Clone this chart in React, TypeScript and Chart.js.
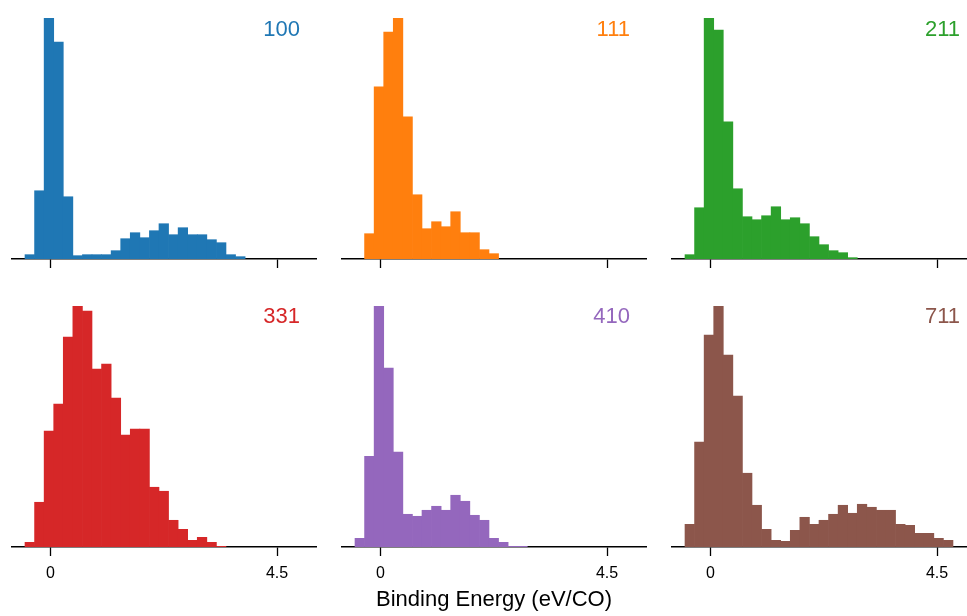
import React, { useEffect, useRef } from 'react';
import { Chart, registerables } from 'chart.js';
Chart.register(...registerables);

// Histogram bin centres (bin width 0.19 eV, first edge at -0.503)
const BIN_CENTERS = [
  -0.408, -0.218, -0.028, 0.162, 0.352, 0.542, 0.732, 0.922, 1.112, 1.302,
  1.492, 1.682, 1.872, 2.062, 2.252, 2.442, 2.632, 2.822, 3.012, 3.202,
  3.392, 3.582, 3.772, 3.962, 4.152, 4.342, 4.532, 4.722,
];

const FACETS = ['100', '111', '211', '331', '410', '711'];

const COUNTS_100 = [13, 205, 724, 652, 187, 10, 13, 13, 13, 25, 61, 79, 64, 85, 106, 73, 94, 73, 73, 58, 49, 13, 7];
const COUNTS_111 = [null, 76, 517, 682, 724, 427, 193, 91, 112, 97, 142, 79, 79, 28, 16];
const COUNTS_211 = [13, 154, 724, 688, 412, 211, 127, 118, 130, 157, 118, 124, 106, 67, 43, 25, 19, 4];
const COUNTS_331 = [14, 134, 347, 428, 629, 722, 707, 533, 548, 446, 335, 353, 353, 179, 167, 80, 53, 20, 29, 14, 2];
const COUNTS_410 = [26, 272, 722, 536, 284, 98, 92, 110, 122, 110, 155, 137, 95, 80, 26, 14, 2, 2];
const COUNTS_711 = [68, 314, 635, 722, 575, 452, 221, 125, 53, 20, 17, 50, 89, 68, 80, 98, 125, 101, 128, 119, 110, 110, 68, 65, 41, 41, 26, 20];

const SERIES: (number | null)[][] = [COUNTS_100, COUNTS_111, COUNTS_211, COUNTS_331, COUNTS_410, COUNTS_711];
const COLORS = ['#1f77b4', '#ff7f0e', '#2ca02c', '#d62728', '#9467bd', '#8c564b'];

const X_TICKS = [0, 4.5];
const X_LABEL = 'Binding Energy (eV/CO)';

const FONT = "'Liberation Sans', Arial, sans-serif";
const PX_PER_UNIT = 50.37;
const X_MIN = -0.781;

const COL_LEFT = [11, 341, 671];
const COL_WIDTH = [306, 306, 296];
const ROW_TOP = [18, 306];
const PLOT_H = 241;
const AXIS_H = [30, 40];
const LABEL_RIGHT = [300, 630, 960];
const LABEL_BASE = [36.7, 323.3];

type PanelProps = {
  counts: (number | null)[];
  color: string;
  left: number;
  top: number;
  width: number;
  axisH: number;
  showLabels: boolean;
};

function HistPanel({ counts, color, left, top, width, axisH, showLabels }: PanelProps) {
  const ref = useRef<HTMLCanvasElement>(null);
  useEffect(() => {
    const xMax = X_MIN + width / PX_PER_UNIT;
    const vals = counts.filter((c) => c !== null) as number[];
    const chart = new Chart(ref.current as HTMLCanvasElement, {
      type: 'bar',
      data: {
        datasets: [
          {
            data: counts.map((c, i) => ({ x: BIN_CENTERS[i], y: c })),
            backgroundColor: color,
            borderWidth: 0,
            barPercentage: 1,
            categoryPercentage: 1,
          } as any,
        ],
      },
      options: {
        animation: false,
        responsive: false,
        events: [],
        layout: { padding: 0 },
        plugins: { legend: { display: false }, tooltip: { enabled: false } },
        scales: {
          x: {
            type: 'linear',
            position: 'bottom',
            offset: false,
            min: X_MIN,
            max: xMax,
            afterBuildTicks: (s: any) => {
              s.ticks = X_TICKS.map((v) => ({ value: v }));
            },
            afterFit: (s: any) => {
              s.height = axisH;
            },
            ticks: {
              display: showLabels,
              autoSkip: false,
              maxRotation: 0,
              padding: 8,
              color: '#000',
              font: { family: FONT, size: 16 },
              callback: (v: any) => String(v),
            },
            grid: {
              display: true,
              offset: false,
              drawOnChartArea: false,
              drawTicks: true,
              tickLength: 9,
              tickWidth: 1.3,
              tickColor: '#000',
            },
            border: { display: true, color: '#000', width: 1.5 },
          } as any,
          y: {
            display: false,
            min: 0,
            max: Math.max(...vals),
          },
        },
      },
    });
    return () => chart.destroy();
  }, []);
  const h = PLOT_H + axisH;
  return (
    <canvas
      ref={ref}
      width={width}
      height={h}
      style={{ position: 'absolute', left, top, width, height: h }}
    />
  );
}

export default function App() {
  return (
    <div
      style={{
        position: 'fixed',
        left: 0,
        top: 0,
        width: 967,
        height: 616,
        overflow: 'hidden',
        background: '#fff',
        fontFamily: FONT,
      }}
    >
      {SERIES.map((counts, i) => {
        const row = Math.floor(i / 3);
        const col = i % 3;
        return (
          <React.Fragment key={FACETS[i]}>
            <HistPanel
              counts={counts}
              color={COLORS[i]}
              left={COL_LEFT[col]}
              top={ROW_TOP[row]}
              width={COL_WIDTH[col]}
              axisH={AXIS_H[row]}
              showLabels={row === 1}
            />
            <div
              style={{
                position: 'absolute',
                left: LABEL_RIGHT[col] - 100,
                width: 100,
                top: LABEL_BASE[row] - 18.6,
                textAlign: 'right',
                fontSize: 22,
                lineHeight: '22px',
                color: COLORS[i],
                whiteSpace: 'nowrap',
              }}
            >
              {FACETS[i]}
            </div>
          </React.Fragment>
        );
      })}
      <div
        style={{
          position: 'absolute',
          left: 294,
          width: 400,
          top: 588.1,
          textAlign: 'center',
          fontSize: 22,
          lineHeight: '22px',
          color: '#000',
          whiteSpace: 'nowrap',
        }}
      >
        {X_LABEL}
      </div>
    </div>
  );
}
